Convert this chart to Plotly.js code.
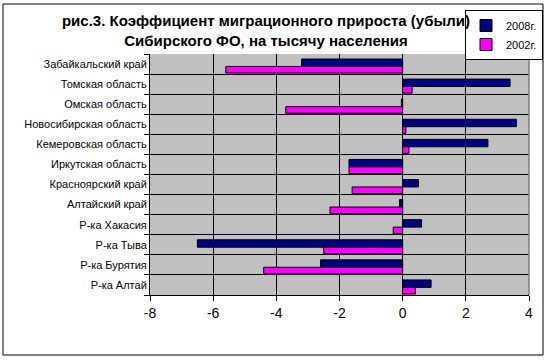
<!DOCTYPE html>
<html>
<head>
<meta charset="utf-8">
<script src="https://cdn.plot.ly/plotly-3.0.1.min.js"></script>
<style>html,body{margin:0;padding:0;background:#fff;}#chart{width:549px;height:361px;}</style>
</head>
<body>
<div id="chart"></div>
<script>
// Categories listed bottom-to-top (Plotly draws first category at bottom)
const regions = [
  "Р-ка Алтай",
  "Р-ка Бурятия",
  "Р-ка Тыва",
  "Р-ка Хакасия",
  "Алтайский край",
  "Красноярский край",
  "Иркутская область",
  "Кемеровская область",
  "Новосибирская область",
  "Омская область",
  "Томская область",
  "Забайкальский край"
];
const values2008 = [0.9, -2.6, -6.5, 0.6, -0.1, 0.5, -1.7, 2.7, 3.6, -0.04, 3.4, -3.2];
const values2002 = [0.4, -4.4, -2.5, -0.3, -2.3, -1.6, -1.7, 0.2, 0.1, -3.7, 0.3, -5.6];
const xTicks = [-8, -6, -4, -2, 0, 2, 4];

const font = "Liberation Sans, Arial, sans-serif";

const traces = [
  {
    type: "bar", orientation: "h", name: "2008г.",
    y: regions, x: values2008,
    width: 0.37, offset: -0.12,
    marker: {color: "#000080", line: {color: "#000000", width: 1}}
  },
  {
    type: "bar", orientation: "h", name: "2002г.",
    y: regions, x: values2002,
    width: 0.33, offset: -0.45,
    marker: {color: "#FF00FF", line: {color: "#000000", width: 1}}
  }
];

const layout = {
  width: 549, height: 361,
  margin: {l: 150, r: 20, t: 54, b: 66, autoexpand: false},
  paper_bgcolor: "#ffffff",
  plot_bgcolor: "#C0C0C0",
  barmode: "overlay",
  showlegend: true,
  font: {family: font, color: "#000"},
  title: {
    text: "рис.3. Коэффициент миграционного прироста (убыли)<br>Сибирского ФО, на тысячу населения",
    font: {family: font, size: 15, weight: "bold", color: "#000"},
    xref: "container", x: 266/549, xanchor: "center",
    yref: "container", y: 1 - 26/361, yanchor: "middle"
  },
  legend: {
    xref: "container", x: 543/549, xanchor: "right",
    yref: "container", y: 1 - 10/361, yanchor: "top",
    bgcolor: "#ffffff", bordercolor: "#000000", borderwidth: 1,
    font: {family: font, size: 11, color: "#000"},
    itemwidth: 30, traceorder: "normal", tracegroupgap: 0
  },
  xaxis: {
    range: [-8, 4],
    tickvals: xTicks,
    ticktext: xTicks.map(String),
    showgrid: true, gridcolor: "#000000", gridwidth: 1,
    zeroline: true, zerolinecolor: "#000000", zerolinewidth: 1,
    showline: true, linecolor: "#000000", linewidth: 1,
    ticks: "outside", ticklen: 5, tickcolor: "#000",
    tickfont: {family: font, size: 14, color: "#000"},
    automargin: false, fixedrange: true
  },
  yaxis: {
    type: "category",
    categoryorder: "array", categoryarray: regions,
    tickson: "boundaries",
    showgrid: true, gridcolor: "#000000", gridwidth: 1,
    showline: true, linecolor: "#000000", linewidth: 1,
    ticks: "outside", ticklen: 5, tickcolor: "#000",
    tickfont: {family: font, size: 11, color: "#000"},
    range: [-0.5, regions.length - 0.5],
    automargin: false, fixedrange: true
  },
  shapes: [
    {type: "rect", xref: "paper", yref: "paper", x0: 1, x1: 1, y0: 0, y1: 1,
     line: {color: "#808080", width: 1}},
    {type: "rect", xref: "paper", yref: "paper",
     x0: (3-150)/379, x1: (543-150)/379, y0: (295-355)/241, y1: (295-4)/241,
     line: {color: "#000000", width: 1}, fillcolor: "rgba(0,0,0,0)", layer: "below"}
  ]
};

Plotly.newPlot("chart", traces, layout, {displayModeBar: false, staticPlot: true});
</script>
</body>
</html>
